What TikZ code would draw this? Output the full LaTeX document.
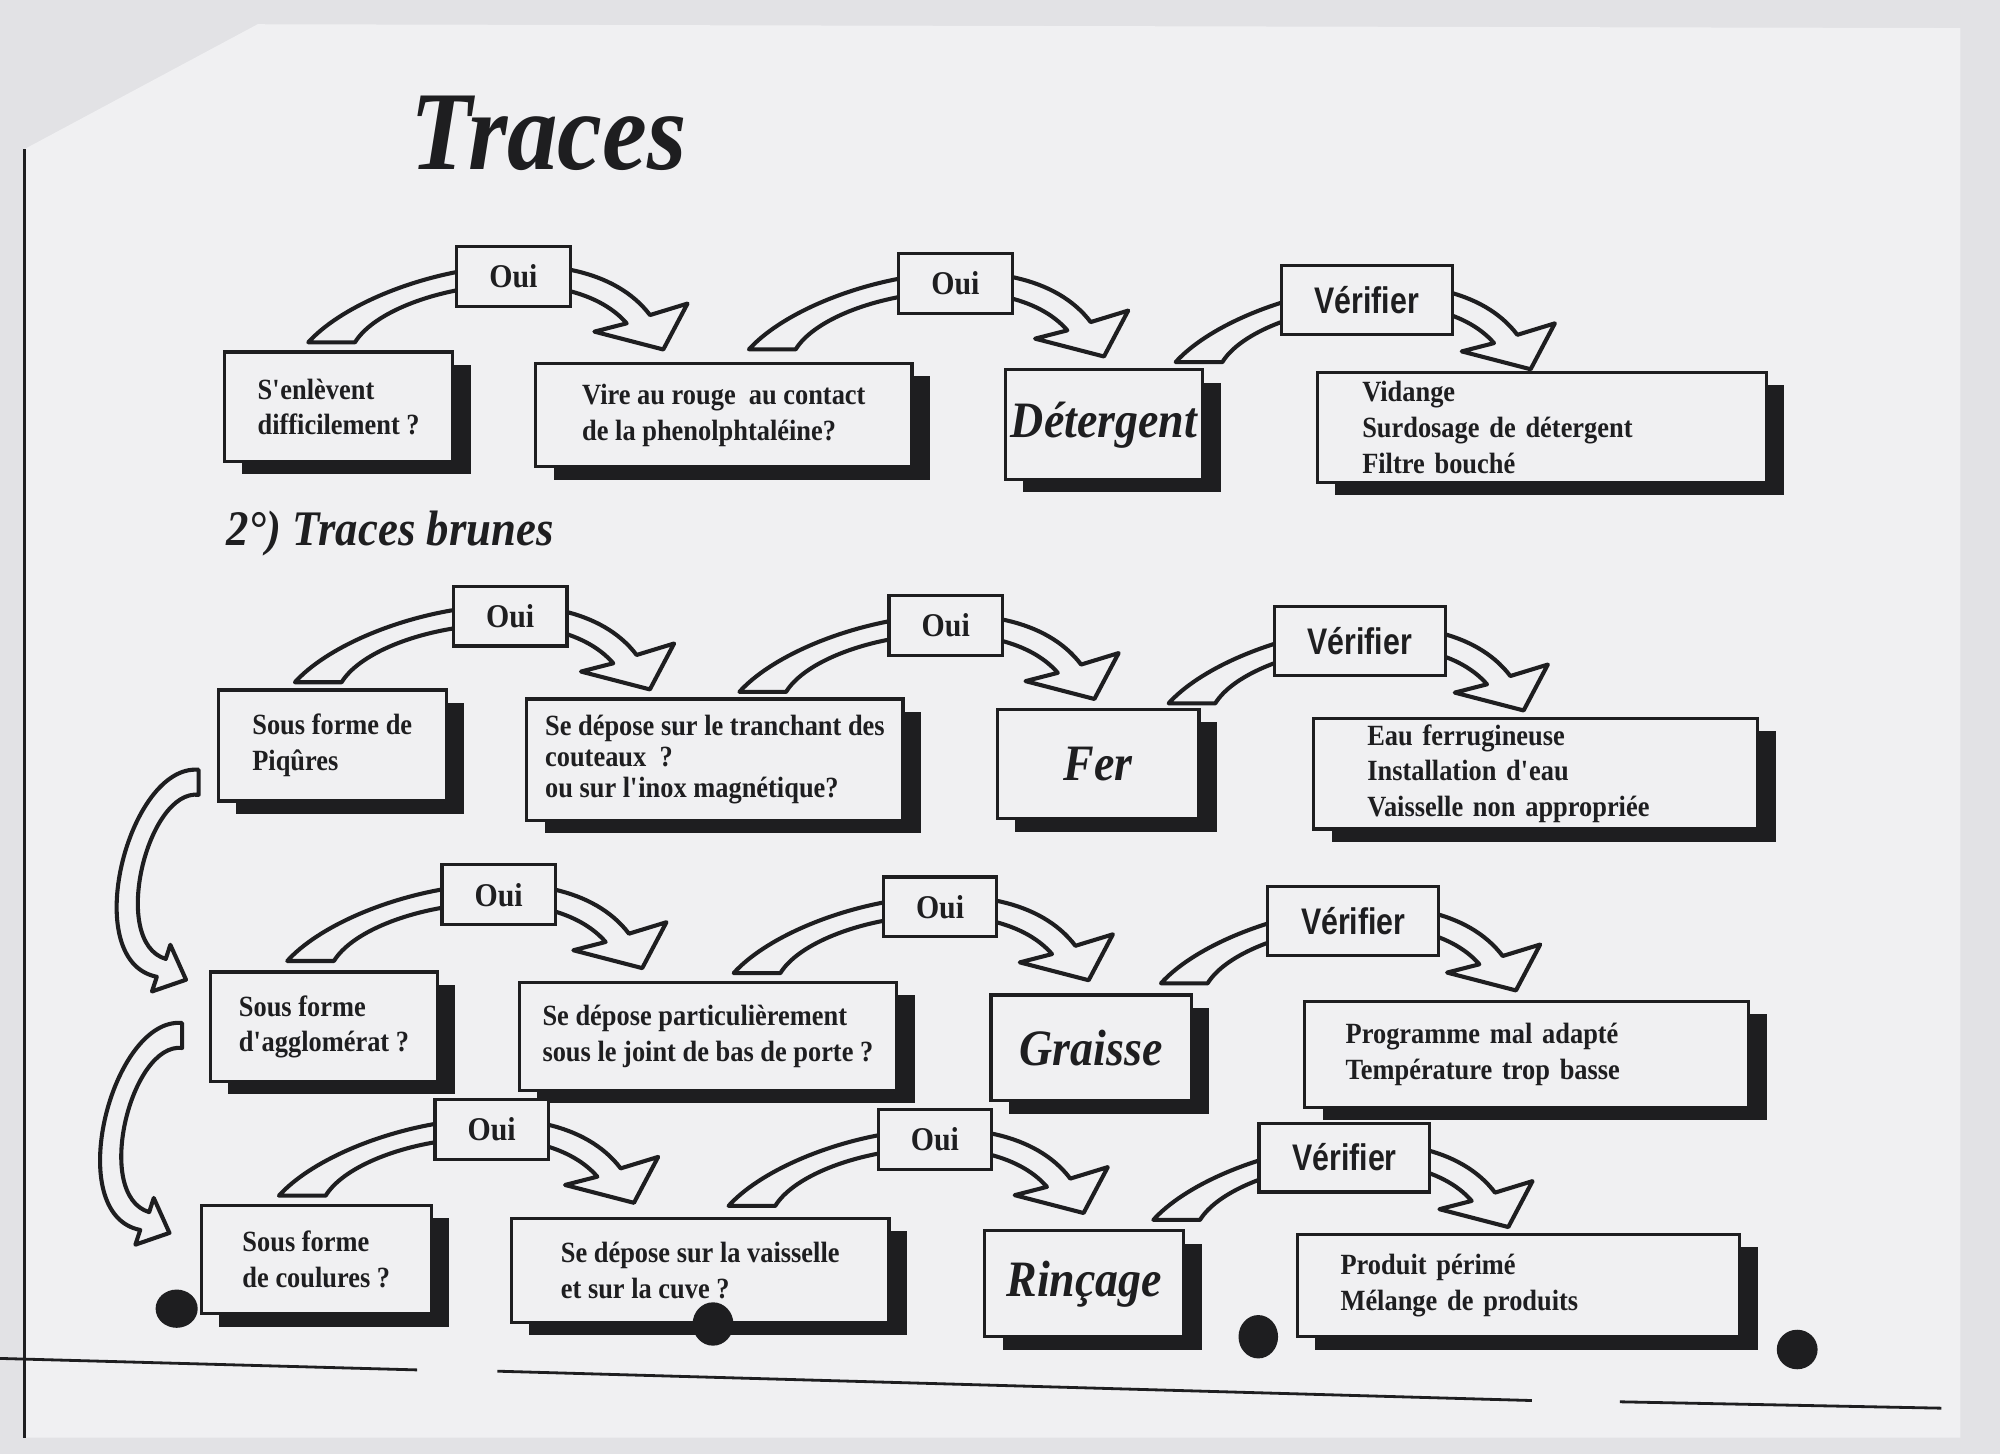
\documentclass[tikz,border=0pt]{standalone}
\usepackage{fontspec}
\setmainfont{Liberation Serif}
\newfontfamily\boxfont[FakeStretch=0.9]{Liberation Serif}
\newfontfamily\titlefont[FakeStretch=0.9]{Liberation Serif}
\newfontfamily\verfont[FakeStretch=0.82]{Liberation Sans}
\usetikzlibrary{calc,shadows}
\definecolor{ink}{RGB}{30,30,32}
\definecolor{paper}{RGB}{240,240,242}
\definecolor{scanner}{RGB}{226,226,229}
\pgfdeclarelayer{sheet}
\pgfdeclarelayer{bands}
\pgfsetlayers{sheet,bands,main}

\begin{document}
\begin{tikzpicture}[x=1pt, y=-1pt,
    qbox/.style={draw=ink, line width=2.5pt, fill=paper, text=ink, align=left,
        font=\boxfont\bfseries\fontsize{23}{28}\selectfont,
        drop shadow={shadow xshift=14pt, shadow yshift=-10pt, fill=ink, opacity=1}}, % question boxes
    wordbox/.style={qbox, align=center, font=\titlefont\bfseries\itshape\fontsize{40}{44}\selectfont},
    ouibox/.style={draw=ink, line width=2.5pt, fill=paper, text=ink,
        minimum width=89pt, minimum height=47pt, font=\boxfont\bfseries\fontsize{26}{28}\selectfont},
    verbox/.style={ouibox, minimum width=134pt, minimum height=54pt,
        font=\verfont\bfseries\fontsize{29}{30}\selectfont},
    band/.style={draw=ink, fill=paper, line width=3.2pt, line join=round},
    % curved arrow over a label box, origin = label centre
    bend/.pic={
        \draw[band] (-160.8,51.9) .. controls (-112.5,-1.5) and (52.5,-41.5) .. (107.1,30.5)
            -- (136.5,21.5) -- (117.5,57.5) -- (63.5,43.5) -- (88.8,37)
            .. controls (42.5,-16.5) and (-97.5,8.5) .. (-124.2,51.9) -- cycle;
    },
    % curved arrow down the left side, origin = top of its tail
    sidebend/.pic={
        \draw[band] (0,0) .. controls (-55,-5) and (-95,150) .. (-32.8,162.3)
            -- (-36.6,173.8) -- (-9.9,164.6) -- (-22.2,137.2) -- (-25.8,148.3)
            .. controls (-70,135) and (-40,15) .. (0,19.6) -- cycle;
    }
]
\useasboundingbox (0,0) rectangle (1568,1140);

% the scanned sheet
\begin{pgfonlayer}{sheet}
\fill[scanner] (0,0) rectangle (1568,1140);
\fill[paper] (202,19) -- (1537,22) -- (1537,1127) -- (19,1127) -- (19,117) -- cycle;
\draw[ink, line width=2.5pt] (19,117) -- (19,1127);
\draw[ink, line width=2.2pt] (0,1065) -- (327,1074);
\draw[ink, line width=2.2pt] (390,1075) -- (1201,1098);
\draw[ink, line width=2.2pt] (1270,1099) -- (1522,1104);
\end{pgfonlayer}

% titles
\node[anchor=base west, text=ink, font=\titlefont\bfseries\itshape\fontsize{88}{92}\selectfont] (title) at (318,133) {Traces};
\node[anchor=base west, text=ink, font=\titlefont\bfseries\itshape\fontsize{39}{42}\selectfont] (brunes) at (174,428) {2°) Traces brunes};

% first row
\node[qbox, minimum width=179pt, minimum height=86pt] (s1) at (265.5,319) {S\textquotesingle enlèvent\\difficilement ?};
\node[qbox, minimum width=295pt, minimum height=81pt] (s2) at (567.5,325.5) {Vire au rouge\ \ au contact\\de la phenolphtaléine?};
\node[wordbox, minimum width=155pt, minimum height=86pt] (s3) at (865.5,333) {Détergent};
\node[qbox, minimum width=352pt, minimum height=86pt, text width=282pt, inner xsep=35pt] (s4) at (1209,335) {Vidange\\Surdosage de détergent\\Filtre bouché};
\node[ouibox] (o1) at (402.5,216.5) {Oui};
\node[ouibox] (o2) at (749,222) {Oui};
\node[verbox] (v1) at (1071.5,235) {Vérifier};

% second row
\node[qbox, minimum width=179pt, minimum height=87pt] (p1) at (260.5,584.5) {Sous forme de\\Piqûres};
\node[qbox, minimum width=295pt, minimum height=95pt, font=\boxfont\bfseries\fontsize{23}{24.5}\selectfont] (p2) at (560.5,595.5) {Se dépose sur le tranchant des\\couteaux\ \ ?\\ou sur l\textquotesingle inox magnétique?};
\node[wordbox, minimum width=158pt, minimum height=86pt] (p3) at (861,599) {Fer};
\node[qbox, minimum width=348pt, minimum height=87pt, text width=264pt, inner xsep=42pt] (p4) at (1204,606.5) {Eau ferrugineuse\\Installation d\textquotesingle eau\\Vaisselle non appropriée};
\node[ouibox] (o3) at (400,483) {Oui};
\node[ouibox] (o4) at (741.5,490.5) {Oui};
\node[verbox] (v2) at (1066,502.5) {Vérifier};

% third row
\node[qbox, minimum width=178pt, minimum height=86pt] (q1) at (254,805) {Sous forme\\d\textquotesingle agglomérat ?};
\node[qbox, minimum width=296pt, minimum height=85pt] (q2) at (555,812.5) {Se dépose particulièrement\\sous le joint de bas de porte ?};
\node[wordbox, minimum width=157pt, minimum height=83pt] (q3) at (855.5,821.5) {Graisse};
\node[qbox, minimum width=348pt, minimum height=83pt, text width=284pt, inner xsep=32pt] (q4) at (1197,826.5) {Programme mal adapté\\Température trop basse};
\node[ouibox] (o5) at (391,701.5) {Oui};
\node[ouibox] (o6) at (737,711) {Oui};
\node[verbox] (v3) at (1061,722) {Vérifier};

% fourth row
\node[qbox, minimum width=180pt, minimum height=85pt] (r1) at (248,987.5) {Sous forme\\de coulures ?};
\node[qbox, minimum width=296pt, minimum height=82pt] (r2) at (549,996) {Se dépose sur la vaisselle\\et sur la cuve ?};
\node[wordbox, minimum width=156pt, minimum height=83pt] (r3) at (850,1006.5) {Rinçage};
\node[qbox, minimum width=347pt, minimum height=80pt, text width=279pt, inner xsep=34pt] (r4) at (1190.5,1008) {Produit périmé\\Mélange de produits};
\node[ouibox] (o7) at (385.5,885.5) {Oui};
\node[ouibox] (o8) at (733,893.5) {Oui};
\node[verbox] (v4) at (1054,907.5) {Vérifier};

% curved arrows, under the boxes
\begin{pgfonlayer}{bands}
\foreach \lab/\sx/\sy in {o1/0/0, o2/-1/0, v1/11/-3, o3/-8/0, o4/-1/0, v2/11/-3,
        o5/-5/0, o6/-1/0, v3/10/-3, o7/-6/0, o8/-1/0, v4/11/-3}
    \pic at ($(\lab)+(\sx,\sy)$) {bend};
\pic at ($(p1.west)+(-14,19)$) {sidebend};
\pic at ($(q1.west)+(-21,-3)$) {sidebend};
\end{pgfonlayer}

% punch holes of the copy
\fill[ink] (138.5,1026) ellipse [x radius=16.5, y radius=15];
\fill[ink] (559,1038) ellipse [x radius=16, y radius=17];
\fill[ink] (986.5,1048) ellipse [x radius=15.5, y radius=17];
\fill[ink] (1409,1058) ellipse [x radius=16, y radius=15.5];
\end{tikzpicture}
\end{document}
